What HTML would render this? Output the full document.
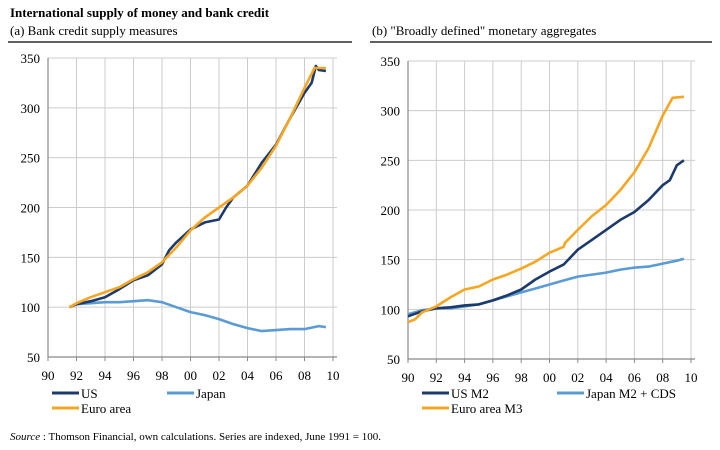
<!DOCTYPE html>
<html><head><meta charset="utf-8"><style>
body{margin:0;background:#fff;}
svg{display:block;font-family:"Liberation Serif",serif;}
</style></head><body>
<svg id="c" width="720" height="450" xmlns="http://www.w3.org/2000/svg">
<text x="10" y="17" font-size="13" font-weight="bold">International supply of money and bank credit</text>
<text x="10" y="35" font-size="13">(a) Bank credit supply measures</text>
<text x="372" y="35" font-size="13">(b) "Broadly defined" monetary aggregates</text>
<line x1="8" y1="42" x2="352" y2="42" stroke="#000" stroke-width="1.2"/>
<line x1="370" y1="42" x2="712" y2="42" stroke="#000" stroke-width="1.2"/>
<text x="10" y="440" font-size="11"><tspan font-style="italic">Source</tspan> : Thomson Financial, own calculations. Series are indexed, June 1991 = 100.</text>
</svg>
<script>
const yTicks=[50,100,150,200,250,300,350];
const xTickLabels=["90","92","94","96","98","00","02","04","06","08","10"];
// Panel A data (x in years since 1900)
const aUSx=[91.5,92,93,94,95,96,97,98,98.5,99,100,101,102,102.5,103,104,105,106,107,108,108.5,108.8,109,109.5];
const aUSy=[100,103,106,110,118,127,132,143,157,165,178,185,188,200,210,222,245,263,290,315,325,342,338,337];
const aJPx=[91.5,92,93,94,95,96,97,98,99,100,101,102,103,104,105,106,107,108,109,109.5];
const aJPy=[100,103,104,105,105,106,107,105,100,95,92,88,83,79,76,77,78,78,81,80];
const aEAx=[91.5,92,93,94,95,96,97,98,99,100,101,102,103,104,105,106,107,108,108.7,109.5];
const aEAy=[100,104,110,115,120,128,135,145,160,177,190,200,210,222,240,262,290,320,340,340];
// Panel B data
const bUSx=[90,91,92,93,94,95,96,97,98,99,100,101,102,103,104,105,106,107,108,108.5,109,109.5];
const bUSy=[93,98,101,102,104,105,109,114,120,130,138,145,160,170,180,190,198,210,225,230,245,250];
const bJPx=[90,91,92,93,94,95,96,97,98,99,100,101,102,103,104,105,106,107,108,109,109.5];
const bJPy=[95,99,101,101,103,105,109,113,117,121,125,129,133,135,137,140,142,143,146,149,151];
const bEAx=[90,90.5,91,92,93,94,95,96,97,98,99,100,101,101.1,102,103,104,105,106,107,108,108.7,109.5];
const bEAy=[87,90,97,103,112,120,123,130,135,141,148,157,163,167,180,194,205,220,238,262,295,313,314];

const NS="http://www.w3.org/2000/svg";
const svg=document.getElementById('c');
function el(t,a,p){const e=document.createElementNS(NS,t);for(const k in a)e.setAttribute(k,a[k]);(p||svg).appendChild(e);return e;}
const NAVY="#1c3a6b",LB="#5b9bd5",OR="#f5a623";

function panel(id,x0,x1,yTop,yBot,series,legend){
  const g=el('g',{});
  
  
  const xs=v=>x0+(v-90)/20*(x1-x0);
  const ys=v=>yBot-(v-50)/300*(yBot-yTop);
  xTickLabels.forEach((l,i)=>{
    const x=xs(90+2*i);
    if(i>0){const gl=el('line',{x1:x,x2:x,y1:yTop,y2:yBot,stroke:'#ccc','stroke-width':1},g);
    }
    const tk=el('line',{x1:x,x2:x,y1:yBot,y2:yBot+4,stroke:'#888'},g);
    
    const t=el('text',{x:x,y:yBot+23,'font-size':13,'text-anchor':'middle'},g);t.textContent=l;
    
  });
  yTicks.forEach(v=>{
    const y=ys(v);
    if(v>50){const gl=el('line',{x1:x0,x2:x1+4,y1:y,y2:y,stroke:'#ccc','stroke-width':1},g);
    }
    const t=el('text',{x:x0-8,y:y+5,'font-size':13,'text-anchor':'end'},g);t.textContent=v;
    
  });
  const ax=el('path',{d:`M${x0},${yTop}V${yBot}H${x1+4}`,stroke:'#888',fill:'none','stroke-width':1.2},g);
  
  series.forEach(s=>{
    const d=s.x.map((v,i)=>(i?'L':'M')+xs(v).toFixed(1)+','+ys(s.y[i]).toFixed(1)).join('');
    const p=el('path',{d:d,stroke:s.c,fill:'none','stroke-width':2.6,'stroke-linejoin':'round'},g);
    
  });
  legend.forEach(L=>{
    const lg=el('g',{},g);
    
    el('line',{x1:L.x,x2:L.x+27,y1:L.y,y2:L.y,stroke:L.c,'stroke-width':3},lg);
    const t=el('text',{x:L.x+29,y:L.y+5,'font-size':13},lg);t.textContent=L.t;
  });
}
panel('panel-a-chart',48,333,58,357,[
  {x:aJPx,y:aJPy,c:LB,n:'line-japan'},
  {x:aUSx,y:aUSy,c:NAVY,n:'line-us'},
  {x:aEAx,y:aEAy,c:OR,n:'line-euro-area'}],
  [{x:52,y:393,c:NAVY,t:'US'},{x:167,y:393,c:LB,t:'Japan'},{x:52,y:408,c:OR,t:'Euro area'}]);
panel('panel-b-chart',408,691,61,359,[
  {x:bJPx,y:bJPy,c:LB,n:'line-japan-m2-cds'},
  {x:bUSx,y:bUSy,c:NAVY,n:'line-us-m2'},
  {x:bEAx,y:bEAy,c:OR,n:'line-euro-area-m3'}],
  [{x:422,y:393,c:NAVY,t:'US M2'},{x:557,y:393,c:LB,t:'Japan M2 + CDS'},{x:422,y:408,c:OR,t:'Euro area M3'}]);
</script>
</body></html>
